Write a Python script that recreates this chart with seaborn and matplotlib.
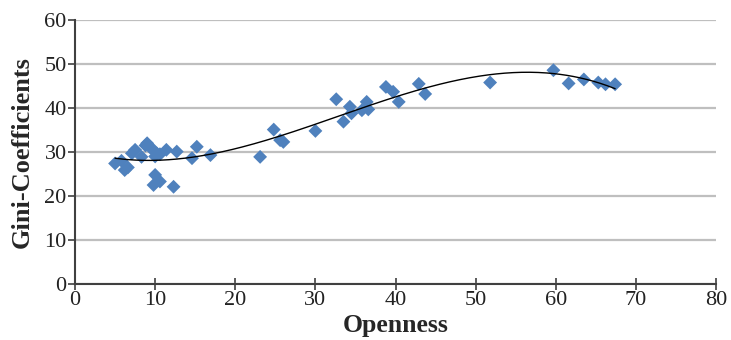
import numpy as np
import pandas as pd
import matplotlib
matplotlib.use("Agg")
import matplotlib.pyplot as plt
import seaborn as sns

openness = [5.0, 5.8, 6.2, 6.6, 7.1, 7.5, 8.3, 8.8, 9.0, 9.4, 9.6, 10.0, 10.2, 10.6,
            11.4, 12.7, 9.8, 10.0, 10.6, 12.3, 14.6, 15.2, 16.9, 23.1, 24.8, 25.6,
            26.0, 30.0, 32.6, 33.5, 34.3, 34.5, 35.8, 36.4, 36.6, 38.8, 39.7, 40.4,
            42.9, 43.7, 51.8, 59.7, 61.6, 63.5, 65.3, 66.2, 67.4]
gini = [27.4, 28.0, 25.9, 26.5, 29.7, 30.5, 28.9, 31.5, 32.0, 31.0, 30.8, 29.0, 29.7, 29.5,
        30.5, 30.1, 22.5, 24.8, 23.3, 22.1, 28.6, 31.2, 29.3, 28.9, 35.1, 32.7,
        32.3, 34.8, 42.0, 36.9, 40.3, 38.8, 39.5, 41.4, 39.7, 44.8, 43.7, 41.4,
        45.5, 43.2, 45.8, 48.6, 45.6, 46.5, 45.8, 45.4, 45.4]
x_ticks = [0, 10, 20, 30, 40, 50, 60, 70, 80]
y_ticks = [0, 10, 20, 30, 40, 50, 60]

df = pd.DataFrame({"Openness": openness, "Gini": gini})

sns.set_style("white")
plt.rcParams["font.family"] = ["Liberation Serif", "DejaVu Serif"]

fig = plt.figure(figsize=(7.31, 3.40), dpi=100)
ax = fig.add_axes([0.1026, 0.1647, 0.877, 0.7763])

ax.grid(axis="y", color="#BFBFBF", linewidth=1.6, zorder=0)
ax.set_axisbelow(True)

sns.scatterplot(data=df, x="Openness", y="Gini", marker="D", s=50, color="#4F81BD",
                edgecolor="none", ax=ax, zorder=3)

coef = np.polyfit(df["Openness"], df["Gini"], 3)
xs = np.linspace(min(openness), max(openness), 300)
trend = pd.DataFrame({"x": xs, "y": np.polyval(coef, xs)})
sns.lineplot(data=trend, x="x", y="y", color="black", linewidth=1.0, ax=ax, zorder=4)

ax.set_xlim(0, 80)
ax.set_ylim(0, 60)
ax.set_xticks(x_ticks)
ax.set_yticks(y_ticks)
ax.tick_params(axis="x", direction="inout", length=8, width=1.2, color="#404040",
               labelsize=16, pad=1, labelcolor="#222222")
ax.tick_params(axis="y", direction="out", length=5, width=1.2, color="#404040",
               labelsize=16, pad=1, left=True, labelcolor="#222222")
ax.tick_params(axis="x", bottom=True)

for side in ["top", "right"]:
    ax.spines[side].set_visible(False)
for side in ["left", "bottom"]:
    ax.spines[side].set_color("#404040")
    ax.spines[side].set_linewidth(1.5)

ax.set_xlabel("Openness", fontsize=18.5, fontweight="bold", labelpad=3)
ax.set_ylabel("Gini-Coefficients", fontsize=19, fontweight="bold", labelpad=0)
ax.yaxis.set_label_coords(-0.064, 0.5)

fig.savefig("out.png", dpi=100, facecolor="white")
